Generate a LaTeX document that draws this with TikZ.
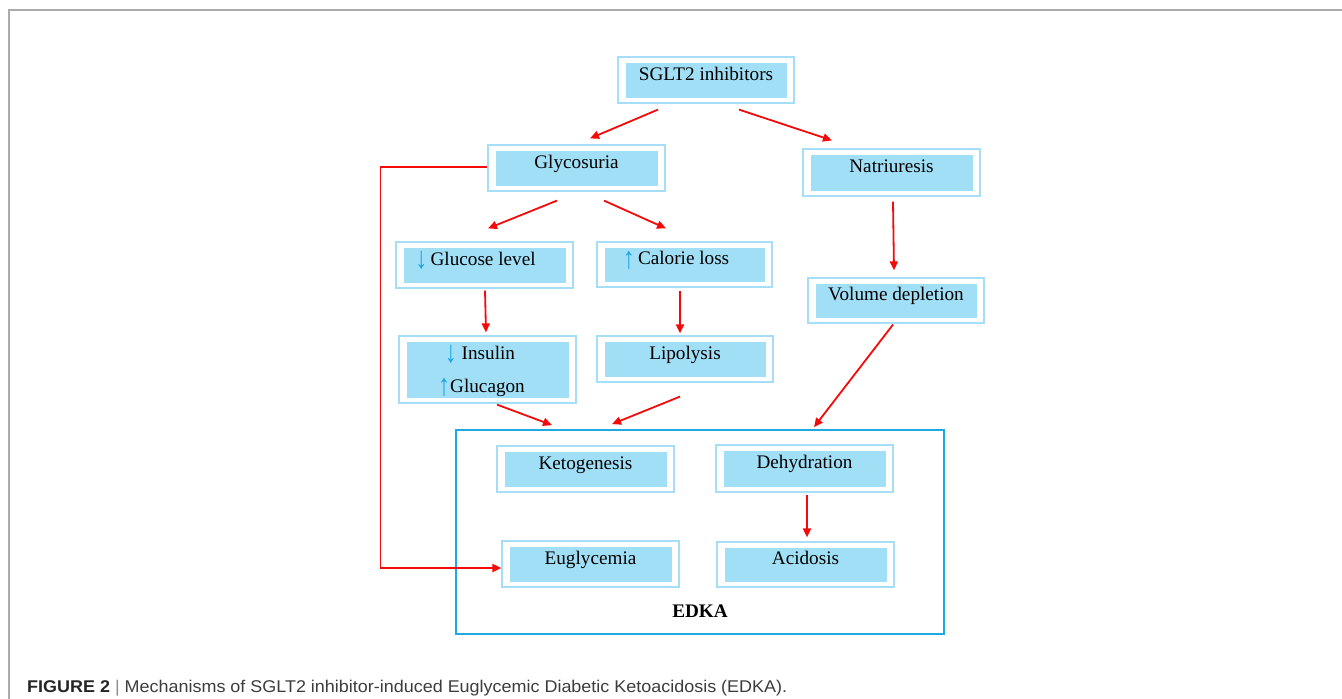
\documentclass[tikz,border=0pt]{standalone}
\usepackage{fontspec}
\usepackage{graphicx}
\setmainfont{Liberation Serif}
\newfontfamily\arrfont{Liberation Sans}
\newfontfamily\capfont{Liberation Sans}
\usetikzlibrary{arrows.meta,calc}
\definecolor{boxfill}{RGB}{160,223,246}
\definecolor{frameblue}{RGB}{165,222,246}
\definecolor{edkablue}{RGB}{30,170,225}
\definecolor{smallarr}{RGB}{30,165,225}
\definecolor{framegray}{RGB}{171,171,171}
\definecolor{captext}{RGB}{60,60,60}
\definecolor{redarr}{RGB}{245,10,10}
\newcommand\da{\raisebox{-3.5pt}{\scalebox{1.25}[1.6]{\arrfont\color{smallarr}↓}}}
\newcommand\ua{\raisebox{-3.5pt}{\scalebox{1.25}[1.6]{\arrfont\color{smallarr}↑}}}
\begin{document}
\begin{tikzpicture}[x=1pt,y=-1pt,
  box/.style={draw=frameblue,line width=1.2pt,fill=white,
    minimum width=177pt,minimum height=46pt,inner sep=0pt,
    text height=13pt,text depth=13pt,font=\fontsize{19.2}{22}\selectfont,
    path picture={\fill[boxfill] ([shift={(7.5pt,-5.5pt)}]path picture bounding box.north west)
       rectangle ([shift={(-7.5pt,5.5pt)}]path picture bounding box.south east);}},
  txt/.style={inner sep=0pt,anchor=base,font=\fontsize{19.2}{22}\selectfont},
  edkastyle/.style={draw=edkablue,line width=1.8pt,minimum width=488pt,minimum height=204pt,inner sep=0pt},
  arr/.style={draw=redarr,line width=1.8pt,-{Triangle[length=9pt,width=8pt]}},
]
\useasboundingbox (0,0) rectangle (1342,699);
% outer gray frame
\draw[framegray,line width=1.4pt] (9,699) -- (9,10) -- (1342,10);

% EDKA container
\node[edkastyle] (edka) at (700,532) {};
\node[txt,font=\fontsize{19.2}{22}\selectfont\bfseries] (edkalbl) at (700,617) {EDKA};

% boxes
\node[box,minimum width=176pt] (sglt) at (706,80) {SGLT2 inhibitors};
\node[box] (glyc) at (576.5,168) {Glycosuria};
\node[box,minimum height=47pt] (natri) at (891.5,172.5) {Natriuresis};
\node[box] (gluc) at (484.5,265) {\da\,Glucose level\hspace{18pt}\mbox{}};
\node[box,minimum width=175pt,minimum height=45pt] (calor) at (684.5,264.5) {\ua\,Calorie loss\hspace{17pt}\mbox{}};
\node[box,minimum height=67pt] (insul) at (487.5,369.5) {};
\node[txt] (insT) at (480,359) {\da\ Insulin};
\node[txt] (gluT) at (481.5,392) {\ua Glucagon};
\node[box,minimum width=176pt] (lipo) at (685,359) {Lipolysis};
\node[box,minimum width=176pt,minimum height=45pt] (vol) at (896,300.5) {Volume depletion};
\node[box] (keto) at (585.5,469) {Ketogenesis};
\node[box] (eugly) at (590.5,564) {Euglycemia};
\node[box,minimum height=47pt] (dehyd) at (804.5,468.5) {Dehydration};
\node[box,minimum height=45pt] (acid) at (805.5,564.5) {Acidosis};

% connectors
\draw[arr] ($(sglt.south)+(-48,6)$) -- ($(glyc.north)+(13.5,-6)$);
\draw[arr] ($(sglt.south)+(33,6)$) -- ($(natri.north)+(-59.5,-8)$);
\draw[arr] ($(glyc.south)+(-19.5,9)$) -- ($(gluc.north)+(3.5,-13)$);
\draw[arr] ($(glyc.south)+(27.5,9)$) -- ($(calor.north)+(-18.5,-13)$);
\draw[arr] ($(glyc.west)+(0,-1)$) -- ++(-107,0) |- ($(eugly.west)+(0,4)$);
\draw[arr] ($(natri.south)+(1.5,5)$) -- ($(vol.north)+(-2,-7)$);
\draw[arr] ($(gluc.south)+(0.5,2)$) -- ($(insul.north)+(-1.5,-3)$);
\draw[arr] ($(calor.south)+(-4.5,3)$) -- ($(lipo.north)+(-5,-2)$);
\draw[arr] ($(insul.south)+(9.5,1)$) -- ($(edka.north)+(-148,-4)$);
\draw[arr] ($(lipo.south)+(-5,14)$) -- ($(edka.north)+(-88,-5)$);
\draw[arr] ($(vol.south)+(-3,1)$) -- ($(edka.north)+(114,-2)$);
\draw[arr] ($(dehyd.south)+(2.5,2)$) -- ($(acid.north)+(1.5,-4)$);

% caption
\node[anchor=base west,inner sep=0pt,text=captext] (cap) at (27,692)
  {\resizebox{760pt}{\height}{\capfont\fontsize{17}{20}\selectfont
   \textbf{\color{black!85}FIGURE 2} {\color{black!45}|} Mechanisms of SGLT2 inhibitor-induced Euglycemic Diabetic Ketoacidosis (EDKA).}};
\end{tikzpicture}
\end{document}
